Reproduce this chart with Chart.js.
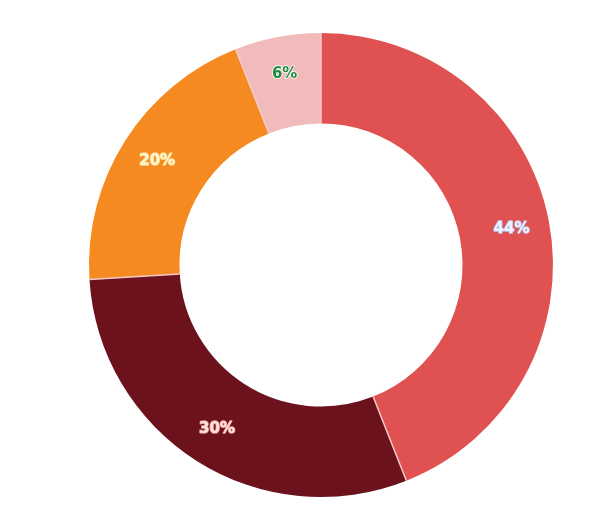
<!DOCTYPE html>
<html><head><meta charset="utf-8">
<script src="https://cdn.jsdelivr.net/npm/chart.js@4/dist/chart.umd.min.js"></script>
<style>html,body{margin:0;padding:0;background:#fff;}#wrap{width:611px;height:532px;}</style>
</head><body><div id="wrap"><canvas id="c" width="611" height="532"></canvas></div>
<script>
const categories = ['A', 'B', 'C', 'D'];
const values = [44, 30, 20, 6];
const sliceColors = ['#E05151', '#6B121C', '#F58A20', '#F2BBBB'];
const labelColors = ['#EEF2FF', '#FFE0DC', '#FFF4C8', '#1E8C3C'];
const labelStroke = ['#B8C8F0', '#F0A0A0', '#F8D890', '#FFFFFF'];

const sepPlugin = {
  id: 'separators',
  afterDatasetsDraw(chart) {
    const ctx = chart.ctx;
    const meta = chart.getDatasetMeta(0);
    ctx.save();
    ctx.strokeStyle = '#F4CACA';
    ctx.lineWidth = 1.5;
    meta.data.forEach((arc) => {
      const p = arc.getProps(['x', 'y', 'startAngle', 'innerRadius', 'outerRadius'], true);
      const a = p.startAngle;
      ctx.beginPath();
      ctx.moveTo(p.x + Math.cos(a) * p.innerRadius, p.y + Math.sin(a) * p.innerRadius);
      ctx.lineTo(p.x + Math.cos(a) * p.outerRadius, p.y + Math.sin(a) * p.outerRadius);
      ctx.stroke();
    });
    ctx.restore();
  }
};

const labelPlugin = {
  id: 'pctLabels',
  afterDatasetsDraw(chart) {
    const ctx = chart.ctx;
    const meta = chart.getDatasetMeta(0);
    const total = values.reduce((a, b) => a + b, 0);
    ctx.save();
    ctx.font = 'bold 15px "DejaVu Sans", sans-serif';
    ctx.textAlign = 'center';
    ctx.textBaseline = 'middle';
    meta.data.forEach((arc, i) => {
      const p = arc.getProps(['x', 'y', 'startAngle', 'endAngle', 'innerRadius', 'outerRadius'], true);
      const mid = (p.startAngle + p.endAngle) / 2;
      const r = p.innerRadius + 0.58 * (p.outerRadius - p.innerRadius);
      const x = p.x + Math.cos(mid) * r;
      const y = p.y + Math.sin(mid) * r;
      const txt = Math.round(values[i] / total * 100) + '%';
      ctx.lineWidth = 1.5;
      ctx.strokeStyle = labelStroke[i];
      ctx.lineJoin = 'round';
      ctx.strokeText(txt, x, y);
      ctx.fillStyle = labelColors[i];
      ctx.fillText(txt, x, y);
    });
    ctx.restore();
  }
};

new Chart(document.getElementById('c'), {
  type: 'doughnut',
  data: {
    labels: categories,
    datasets: [{
      data: values,
      backgroundColor: sliceColors,
      borderWidth: 0
    }]
  },
  options: {
    responsive: false,
    animation: false,
    cutout: '61%',
    layout: { padding: { top: 33, bottom: 35, left: 31, right: 0 } },
    plugins: { legend: { display: false }, tooltip: { enabled: false } }
  },
  plugins: [sepPlugin, labelPlugin]
});
</script></body></html>
